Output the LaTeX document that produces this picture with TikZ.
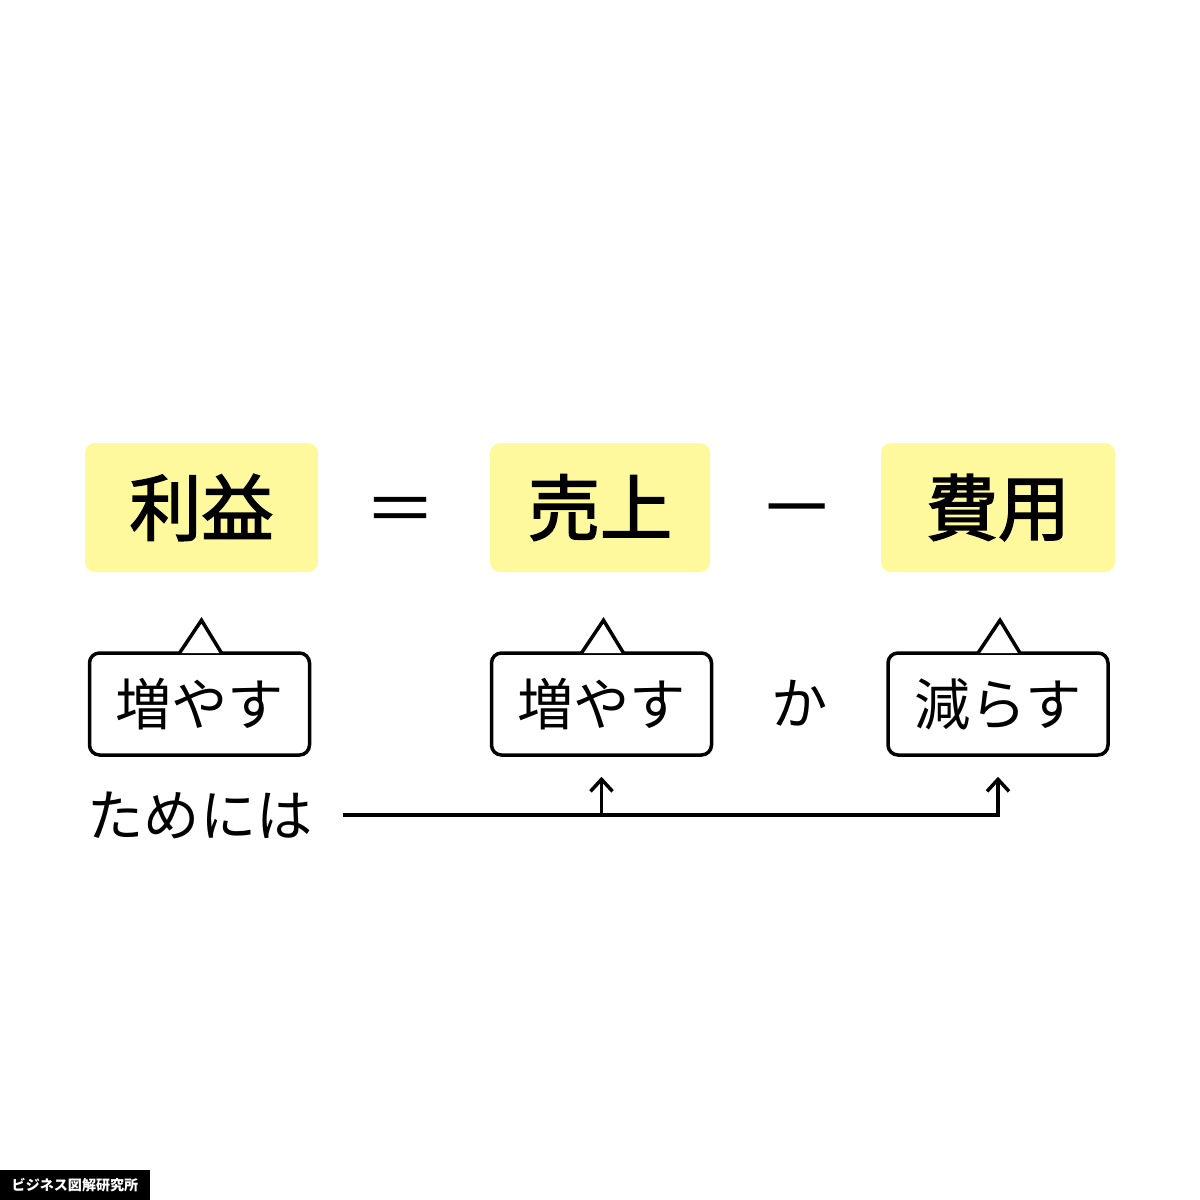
\documentclass[tikz,border=0pt]{standalone}
\usepackage{fontspec}
\newfontfamily\jp{Noto Sans CJK JP}
\newfontfamily\jpmed{Noto Sans CJK JP}[FakeBold=2.2]
\usetikzlibrary{arrows.meta}
\definecolor{hlyellow}{HTML}{FFF99E}

\tikzset{
  term/.style={fill=hlyellow, rounded corners=1mm, minimum width=22.6mm, minimum height=12.9mm, font=\jpmed\fontsize{20.5}{24}\selectfont},
  bubble/.style={draw, line width=0.35mm, rounded corners=1mm, fill=white, minimum width=22mm, minimum height=10.2mm, font=\jp\fontsize{16}{19}\selectfont},
  plain/.style={font=\jp\fontsize{16}{19}\selectfont},
  arr/.style={line width=0.35mm, -{Straight Barb[length=1.2mm,width=2.2mm,line width=0.35mm]}}
}

\begin{document}
\begin{tikzpicture}[x=0.1mm,y=-0.1mm]
  \useasboundingbox (0,0) rectangle (1200,1200);

  % top line: equation
  \node[term, minimum width=23.3mm] (rieki) at (201.5,507.5) {利益};
  \node[font=\jp\fontsize{20.5}{24}\selectfont] (eq) at (401,516) {＝};
  \node[term, minimum width=22mm] (uriage) at (600,507.5) {売上};
  \node[font=\jp\fontsize{22}{24}\selectfont] (minus) at (797,520) {－};
  \node[term, minimum width=23.4mm] (hiyou) at (998,507.5) {費用};

  % bubbles
  \node[bubble] (up1) at (199.5,704) {増やす};
  \node[bubble] (up2) at (601.5,704) {増やす};
  \node[plain] (ka) at (800,703) {か};
  \node[bubble] (down3) at (998,704) {減らす};
  \foreach \b in {up1,up2,down3}
    \draw[line width=0.35mm, fill=white] ([xshift=-2mm,yshift=-0.18mm]\b.north) -- ([xshift=0.2mm,yshift=3.1mm]\b.north) -- ([xshift=2.2mm,yshift=-0.18mm]\b.north);

  % bottom line
  \node[plain] (tame) at (200,815) {ためには};
  \coordinate (start) at (343,815);
  \coordinate (fork) at (up2.south |- start);
  \draw[arr, shorten >=2mm] (start) -| (down3.south);
  \draw[arr, shorten >=2mm] (fork) -- (up2.south);

  % credit
  \node[fill=black, text=white, minimum width=15mm, minimum height=3mm, inner sep=0pt, font=\jp\bfseries\fontsize{4}{5}\selectfont] (credit) at (75,1185) {ビジネス図解研究所};
\end{tikzpicture}
\end{document}
